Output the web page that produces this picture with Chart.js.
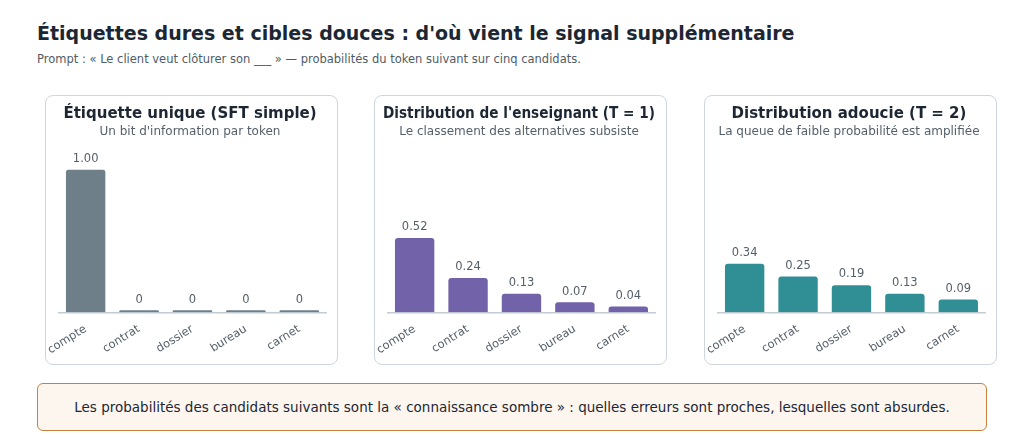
<!DOCTYPE html>
<html><head><meta charset="utf-8">
<script src="https://cdn.jsdelivr.net/npm/chart.js@4"></script>
<style>
body{margin:0;width:1024px;height:448px;background:#fff;font-family:"DejaVu Sans",sans-serif;position:relative;overflow:hidden}
h1{position:absolute;left:37px;top:22px;margin:0;font-size:19px;font-weight:bold;color:#1c2733}
.sub{position:absolute;left:37px;top:52px;font-size:11.5px;color:#4f5b66}
.panel{position:absolute;top:95px;width:293px;height:270px;border:1.5px solid #cdd6de;border-radius:8px;box-sizing:border-box}
.note{position:absolute;left:37px;top:383px;width:950px;height:48px;box-sizing:border-box;border:1.5px solid #c8803e;border-radius:6px;background:#fdf6ef;font-size:13.5px;color:#1c2733;display:flex;align-items:center;justify-content:center}
</style></head><body>
<h1>Étiquettes dures et cibles douces : d'où vient le signal supplémentaire</h1>
<div class="sub">Prompt : « Le client veut clôturer son ___ » — probabilités du token suivant sur cinq candidats.</div>
<div class="panel" style="left:45px"><canvas id="c1"></canvas></div>
<div class="panel" style="left:374px"><canvas id="c2"></canvas></div>
<div class="panel" style="left:704px"><canvas id="c3"></canvas></div>
<div class="note">Les probabilités des candidats suivants sont la « connaissance sombre » : quelles erreurs sont proches, lesquelles sont absurdes.</div>
<script>
const candidates=["compte","contrat","dossier","bureau","carnet"];
const hardLabel=[1.00,0,0,0,0];
const teacherT1=[0.52,0.24,0.13,0.07,0.04];
const softT2=[0.34,0.25,0.19,0.13,0.09];
const hardText=["1.00","0","0","0","0"];
const t1Text=["0.52","0.24","0.13","0.07","0.04"];
const t2Text=["0.34","0.25","0.19","0.13","0.09"];
const valPlugin={id:'vals',afterDatasetsDraw(ch){const c=ch.ctx;const m=ch.getDatasetMeta(0);const t=ch.options.plugins.vals.text;c.save();c.font='11.5px "DejaVu Sans"';c.fillStyle='#555f69';c.textAlign='center';c.textBaseline='bottom';m.data.forEach((b,i)=>{c.fillText(t[i],b.x,Math.min(b.y,ch.scales.y.getPixelForValue(0)-2)-5)});c.restore();}};
Chart.register(valPlugin);
function mk(id,title,sub,data,text,color){
 const el=document.getElementById(id);
 el.width=290;el.height=267;
 new Chart(el,{type:'bar',data:{labels:candidates,datasets:[{data:data,backgroundColor:color,borderRadius:3,minBarLength:2,barPercentage:0.76,categoryPercentage:0.97}]},
 options:{responsive:false,animation:false,devicePixelRatio:1,layout:{padding:{left:8,right:10,top:0,bottom:4}},
 plugins:{legend:{display:false},tooltip:{enabled:false},vals:{text:text},
  title:{display:true,text:title,color:'#1c2733',font:{family:'DejaVu Sans',size:15,weight:'bold'},padding:{top:9,bottom:2}},
  subtitle:{display:true,text:sub,color:'#555f69',font:{family:'DejaVu Sans',size:12},padding:{bottom:30}}},
 scales:{y:{display:false,min:0,max:1},x:{grid:{display:false},border:{color:'#c3ccd4',width:1.5},ticks:{color:'#555f69',font:{family:'DejaVu Sans',size:11.5},maxRotation:32,minRotation:32,padding:2}}}}});
}
mk('c1','Étiquette unique (SFT simple)',"Un bit d'information par token",hardLabel,hardText,'#6f7f8a');
mk('c2',"Distribution de l'enseignant (T = 1)",'Le classement des alternatives subsiste',teacherT1,t1Text,'#7262a9');
mk('c3','Distribution adoucie (T = 2)','La queue de faible probabilité est amplifiée',softT2,t2Text,'#2f8f95');
</script></body></html>
